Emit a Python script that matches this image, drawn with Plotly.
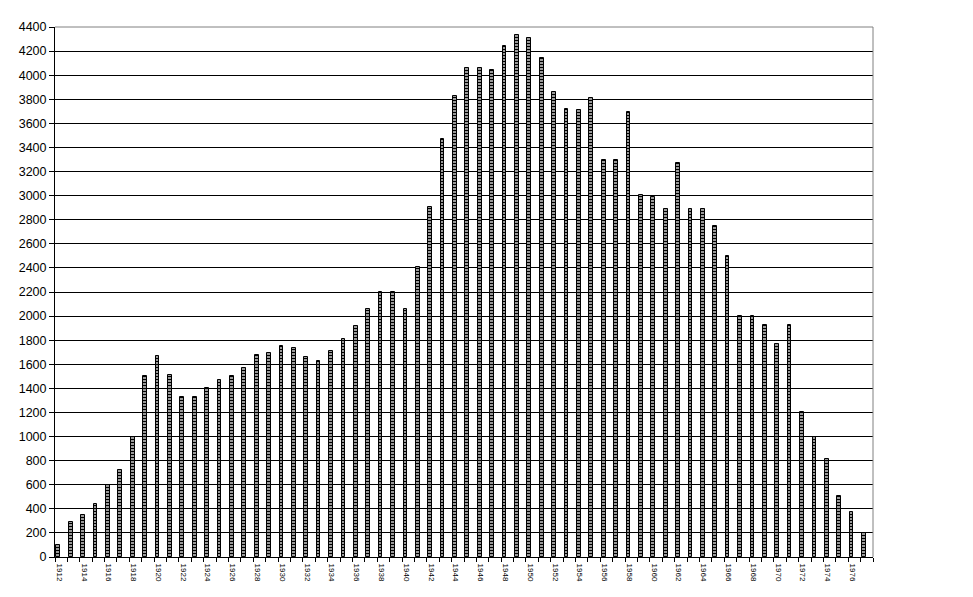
import plotly.graph_objects as go

years = list(range(1912, 1978))
values = [100, 290, 350, 440, 600, 720, 1000, 1500, 1670, 1510,
          1325, 1325, 1400, 1470, 1500, 1570, 1680, 1695, 1750, 1735,
          1660, 1625, 1710, 1810, 1920, 2060, 2200, 2200, 2060, 2410,
          2905, 3470, 3830, 4060, 4060, 4045, 4240, 4335, 4310, 4140,
          3860, 3720, 3710, 3810, 3295, 3295, 3695, 3005, 2990, 2885,
          3270, 2885, 2885, 2745, 2495, 2000, 2000, 1930, 1770, 1930,
          1200, 1000, 810, 505, 375, 200]
label_years = [y for y in years if y % 2 == 0]
label_text = [str(y) for y in label_years]
y_ticks = list(range(0, 4401, 200))

fig = go.Figure()
fig.add_trace(go.Bar(
    x=years, y=values, width=0.3, offset=-0.38,
    marker=dict(color="white", line=dict(color="black", width=1),
                pattern=dict(shape="-", fgcolor="black", bgcolor="white",
                             size=3, solidity=0.6, fillmode="replace")),
    showlegend=False,
))

fig.update_layout(
    width=973, height=597,
    margin=dict(l=47, r=108, t=19, b=48),
    paper_bgcolor="white", plot_bgcolor="white",
    font=dict(family="Liberation Sans, Arial, sans-serif", color="black"),
    bargap=0,
    xaxis=dict(
        type="linear", range=[1911.5, 1977.5], automargin=False,
        tickmode="array", tickvals=[y - 0.15 for y in label_years], ticktext=label_text,
        tickangle=90, tickfont=dict(size=8), ticklabelstandoff=4,
        ticks="outside", ticklen=0, tickcolor="black",
        showline=True, linecolor="black", linewidth=1,
        showgrid=False, zeroline=False,
        minor=dict(tickmode="linear", tick0=1911.5, dtick=1, ticks="outside",
                   ticklen=4, tickcolor="black", showgrid=False),
    ),
    yaxis=dict(
        range=[0, 4400], tickmode="array", tickvals=y_ticks, automargin=False,
        ticks="outside", ticklen=5, tickcolor="black",
        tickfont=dict(size=12.5),
        showline=True, linecolor="black", linewidth=1,
        showgrid=True, gridcolor="black", gridwidth=1, zeroline=False,
    ),
    shapes=[
        dict(type="line", xref="paper", yref="paper", x0=0, x1=1, y0=1, y1=1,
             line=dict(color="#808080", width=1), layer="above"),
        dict(type="line", xref="paper", yref="paper", x0=1, x1=1, y0=0, y1=1,
             line=dict(color="#808080", width=1), layer="above"),
    ],
)

fig.write_html("out.html")
